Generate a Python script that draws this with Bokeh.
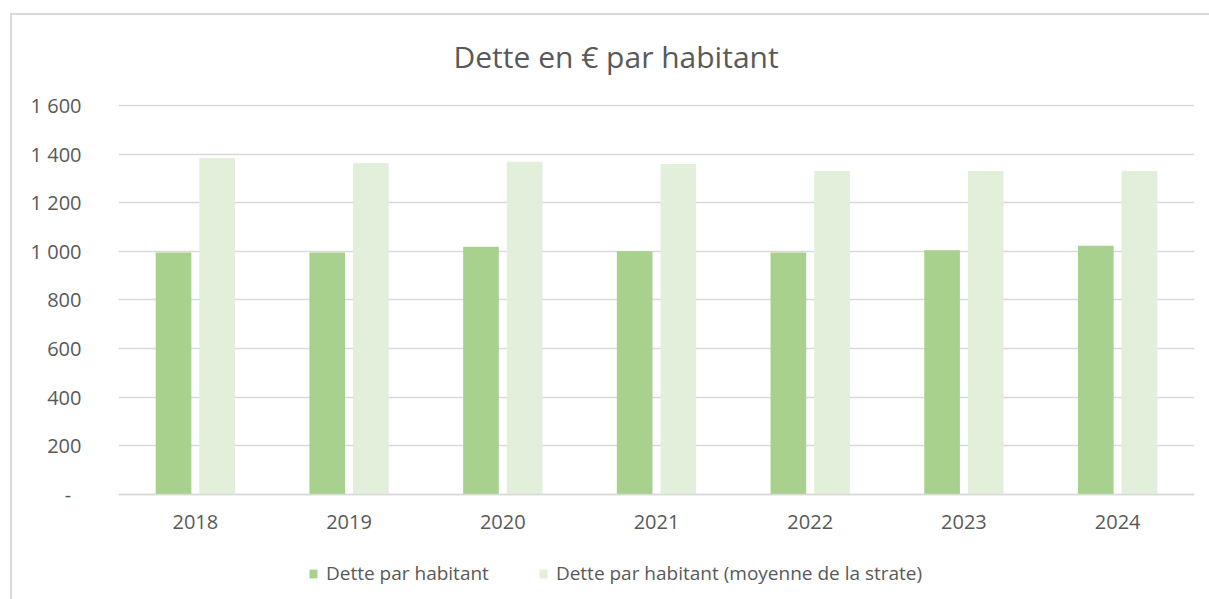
from bokeh.plotting import figure
from bokeh.models import FactorRange, Range1d, FixedTicker, Legend, LegendItem, ColumnDataSource
from bokeh.transform import dodge
from bokeh.embed import file_html
from bokeh.resources import INLINE

# ---- data ----
years = ["2018", "2019", "2020", "2021", "2022", "2023", "2024"]
dette_par_habitant = [995, 995, 1019, 1000, 995, 1004, 1023]
dette_moyenne_strate = [1384, 1363, 1369, 1359, 1330, 1330, 1330]
y_ticks = [0, 200, 400, 600, 800, 1000, 1200, 1400, 1600]
y_tick_labels = ["-\u00a0\u00a0", "200", "400", "600", "800", "1 000", "1 200", "1 400", "1 600"]
series_names = ["Dette par habitant", "Dette par habitant (moyenne de la strate)"]
title_text = "Dette en € par habitant"

FONT = "Open Sans"
TXT = "#595959"
GRID = "#d9d9d9"
C1 = "#a9d18e"
C2 = "#e2efda"

src = ColumnDataSource(dict(year=years, dette=dette_par_habitant, strate=dette_moyenne_strate))

# the frame extends below zero so that the legend can sit inside it
p = figure(width=1209, height=599,
           x_range=FactorRange(*years), y_range=Range1d(-432, 1604),
           output_backend="svg", toolbar_location=None,
           min_border_left=118, min_border_right=15,
           min_border_top=104, min_border_bottom=0)
p.outline_line_color = None
p.background_fill_color = "white"
p.border_fill_color = None
# chart-area border (top and left edges, as in the reference)
p.styles = {
    "background": ("linear-gradient(#d9d9d9,#d9d9d9) 10px 13px / 2px 600px no-repeat, "
                   "linear-gradient(#d9d9d9,#d9d9d9) 10px 13px / 1210px 2px no-repeat, #ffffff"),
}

r1 = p.vbar(x=dodge("year", -0.142, range=p.x_range), top="dette", bottom=0, width=0.232,
            source=src, fill_color=C1, line_color=None)
r2 = p.vbar(x=dodge("year", 0.142, range=p.x_range), top="strate", bottom=0, width=0.232,
            source=src, fill_color=C2, line_color=None)

# title
p.title.text = title_text
p.title.align = "left"
p.title.offset = 335
p.title.text_font = FONT
p.title.text_font_size = "30px"
p.title.text_font_style = "normal"
p.title.text_color = TXT
p.title.standoff = 55

# y axis
p.yaxis.ticker = FixedTicker(ticks=y_ticks)
p.yaxis.major_label_overrides = {t: l for t, l in zip(y_ticks, y_tick_labels)}
p.yaxis.axis_line_color = None
p.yaxis.major_tick_line_color = None
p.yaxis.minor_tick_line_color = None
p.yaxis.major_tick_out = 0
p.yaxis.major_tick_in = 0
p.yaxis.major_label_standoff = 37
p.yaxis.major_label_text_font = FONT
p.yaxis.major_label_text_font_size = "20px"
p.yaxis.major_label_text_color = TXT

# x axis, pinned at value 0
p.xaxis.fixed_location = 0
p.xaxis.axis_line_color = GRID
p.xaxis.axis_line_width = 1.5
p.xaxis.major_tick_line_color = None
p.xaxis.major_tick_out = 0
p.xaxis.major_tick_in = 0
p.xaxis.major_label_standoff = 21
p.xaxis.major_label_text_font = FONT
p.xaxis.major_label_text_font_size = "20px"
p.xaxis.major_label_text_color = TXT

# grid
p.xgrid.grid_line_color = None
p.ygrid.ticker = FixedTicker(ticks=y_ticks)
p.ygrid.grid_line_color = GRID
p.ygrid.grid_line_width = 1.5

legend = Legend(items=[LegendItem(label=series_names[0], renderers=[r1]),
                       LegendItem(label=series_names[1], renderers=[r2])],
                location=(190, 13), orientation="horizontal",
                glyph_width=10, glyph_height=11, label_standoff=8, spacing=49,
                padding=0, margin=0, label_height=20,
                label_text_font=FONT, label_text_font_size="19px", label_text_color=TXT,
                background_fill_alpha=0, border_line_color=None)
p.add_layout(legend)

open("out.html", "w").write(file_html(p, INLINE))
